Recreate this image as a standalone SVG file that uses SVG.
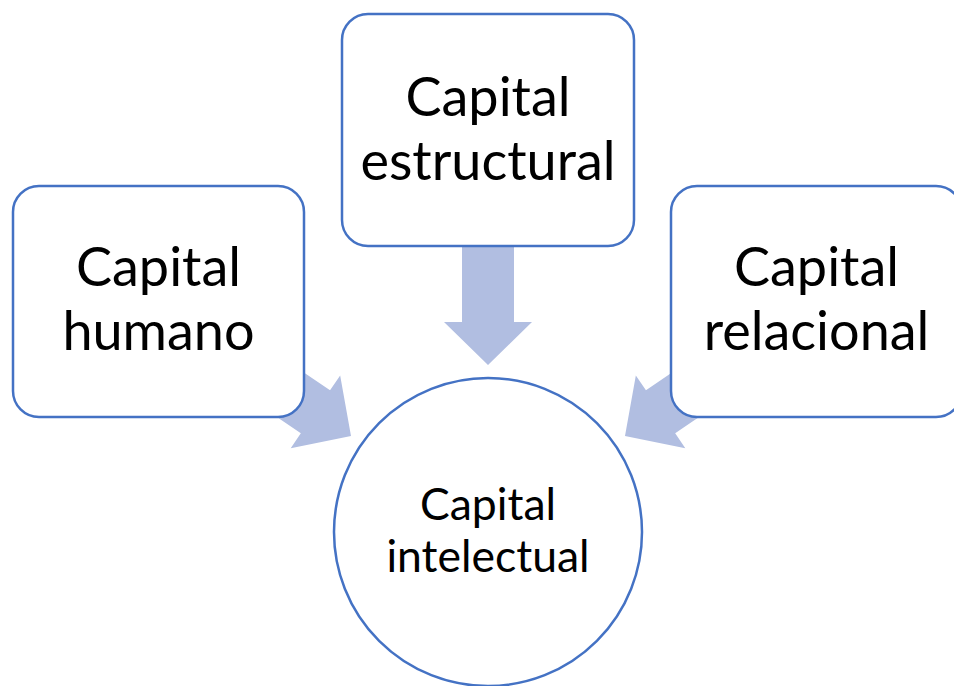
<svg xmlns="http://www.w3.org/2000/svg" width="954" height="686" viewBox="0 0 954 686">
<style>
.box{fill:#fff;stroke:#4472C4;stroke-width:2.5}
.arr{fill:#B1BEE1}
.t{font-family:Lato,"Open Sans","Liberation Sans",sans-serif;fill:#000;text-anchor:middle}
.big{font-size:54px}
.sm{font-size:44.5px}
</style>
<defs>
<polygon id="arrow" points="0,0 -44,-43 -26,-43 -26,-135 26,-135 26,-43 44,-43"/>
</defs>
<g id="connectors">
<use href="#arrow" class="arr" transform="translate(488,365)"/>
<use href="#arrow" class="arr" transform="translate(351,436) rotate(-55.8)"/>
<use href="#arrow" class="arr" transform="translate(625,436) rotate(55.8)"/>
</g>
<g id="capital-humano">
<rect class="box" x="13" y="186" width="291" height="231" rx="26"/>
<text class="t big" x="158.5" y="286">Capital</text>
<text class="t big" x="158.5" y="350">humano</text>
</g>
<g id="capital-estructural">
<rect class="box" x="342" y="14" width="292" height="232" rx="26"/>
<text class="t big" x="488" y="116">Capital</text>
<text class="t big" x="488" y="180">estructural</text>
</g>
<g id="capital-relacional">
<rect class="box" x="671" y="186" width="291" height="231" rx="26"/>
<text class="t big" x="816.5" y="286">Capital</text>
<text class="t big" x="816.5" y="350">relacional</text>
</g>
<g id="capital-intelectual">
<circle class="box" cx="488" cy="532" r="154"/>
<text class="t sm" x="488" y="520">Capital</text>
<text class="t sm" x="488" y="572">intelectual</text>
</g>
</svg>
